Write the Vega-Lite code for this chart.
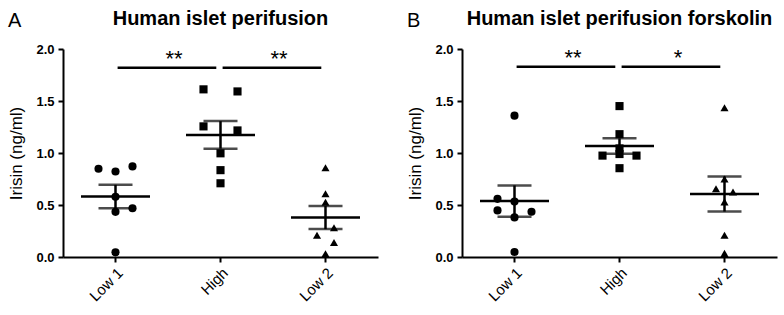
{
  "$schema": "https://vega.github.io/schema/vega-lite/v6.json",
  "padding": {"left": 7, "top": 9, "right": 5, "bottom": 5},
  "spacing": 28,
  "config": {
    "font": "Liberation Sans",
    "view": {"stroke": null},
    "axis": {
      "domainColor": "black", "domainWidth": 2, "tickColor": "black", "tickWidth": 2, "tickSize": 5,
      "labelColor": "black", "titleColor": "black", "grid": false, "labelFont": "Liberation Sans", "titleFont": "Liberation Sans"
    },
    "axisY": {"labelFontSize": 13, "labelFontWeight": "bold", "titleFontSize": 17, "titleFontWeight": "normal", "labelPadding": 4, "titlePadding": 10},
    "axisX": {"labelFontSize": 15, "labelAngle": -45, "labelPadding": 3},
    "title": {"color": "black", "font": "Liberation Sans"}
  },
  "hconcat": [
    {
      "title": {"text": "A", "anchor": "start", "frame": "bounds", "fontSize": 20, "fontWeight": "normal", "offset": -22},
      "hconcat": [
        {
          "width": 315, "height": 208,
          "title": {"text": "Human islet perifusion", "fontSize": 20, "fontWeight": "bold", "anchor": "middle", "offset": 14},
          "data": {"values": [
            {"group": "Low 1", "value": 0.848, "jit": -1},
            {"group": "Low 1", "value": 0.822, "jit": 0},
            {"group": "Low 1", "value": 0.871, "jit": 1},
            {"group": "Low 1", "value": 0.579, "jit": 0},
            {"group": "Low 1", "value": 0.434, "jit": 0},
            {"group": "Low 1", "value": 0.469, "jit": 1},
            {"group": "Low 1", "value": 0.045, "jit": 0},
            {"group": "High", "value": 1.612, "jit": -1},
            {"group": "High", "value": 1.592, "jit": 1},
            {"group": "High", "value": 1.256, "jit": -1},
            {"group": "High", "value": 1.217, "jit": 1},
            {"group": "High", "value": 0.997, "jit": 0},
            {"group": "High", "value": 0.835, "jit": 0},
            {"group": "High", "value": 0.709, "jit": 0},
            {"group": "Low 2", "value": 0.858, "jit": 0},
            {"group": "Low 2", "value": 0.608, "jit": 0},
            {"group": "Low 2", "value": 0.527, "jit": 0},
            {"group": "Low 2", "value": 0.282, "jit": 0.5},
            {"group": "Low 2", "value": 0.210, "jit": -0.5},
            {"group": "Low 2", "value": 0.139, "jit": 0.5},
            {"group": "Low 2", "value": 0.032, "jit": 0}
          ]},
          "layer": [
            {
              "mark": {"type": "point", "filled": true, "color": "black", "size": 66, "opacity": 1},
              "encoding": {
                "x": {"field": "group", "type": "nominal", "sort": null, "scale": {"domain": ["Low 1", "High", "Low 2"], "paddingInner": 0, "paddingOuter": 0}, "axis": {"title": null}},
                "xOffset": {"field": "jit", "type": "quantitative", "scale": {"domain": [-1, 1], "range": [35.5, 69.5]}},
                "y": {"field": "value", "type": "quantitative", "title": "Irisin (ng/ml)", "scale": {"domain": [0, 2], "nice": false}, "axis": {"values": [0, 0.5, 1, 1.5, 2], "format": ".1f"}},
                "shape": {"field": "group", "type": "nominal", "scale": {"domain": ["Low 1", "High", "Low 2"], "range": ["circle", "square", "triangle-up"]}, "legend": null}
              }
            },
            {
              "mark": {"type": "errorbar", "extent": "stderr", "color": "black", "ticks": {"size": 34, "thickness": 2.5, "color": "black"}, "rule": {"strokeWidth": 2.5, "color": "black"}},
              "encoding": {
                "x": {"field": "group", "type": "nominal"},
                "y": {"field": "value", "type": "quantitative", "title": "Irisin (ng/ml)"}
              }
            },
            {
              "mark": {"type": "tick", "size": 69, "thickness": 2.5, "color": "black", "opacity": 1},
              "encoding": {
                "x": {"field": "group", "type": "nominal"},
                "y": {"aggregate": "mean", "field": "value", "type": "quantitative", "title": "Irisin (ng/ml)"}
              }
            },
            {
              "data": {"values": [
                {"from": "Low 1", "to": "High", "y": 1.82, "label": "**"},
                {"from": "High", "to": "Low 2", "y": 1.82, "label": "**"}
              ]},
              "layer": [
                {
                  "mark": {"type": "rule", "strokeWidth": 2.5, "color": "black"},
                  "encoding": {
                    "x": {"field": "from", "type": "nominal", "bandPosition": 0.52},
                    "x2": {"field": "to", "bandPosition": 0.46},
                    "y": {"field": "y", "type": "quantitative", "title": "Irisin (ng/ml)"}
                  }
                },
                {
                  "mark": {"type": "text", "fontSize": 22, "color": "black", "baseline": "alphabetic", "dy": -2, "dx": 6},
                  "encoding": {
                    "x": {"field": "to", "type": "nominal", "bandPosition": 0},
                    "y": {"field": "y", "type": "quantitative", "title": "Irisin (ng/ml)"},
                    "text": {"field": "label"}
                  }
                }
              ]
            }
          ]
        }
      ]
    },
    {
      "title": {"text": "B", "anchor": "start", "frame": "bounds", "fontSize": 20, "fontWeight": "normal", "offset": -22},
      "hconcat": [
        {
          "width": 315, "height": 208,
          "title": {"text": "Human islet perifusion forskolin", "fontSize": 20, "fontWeight": "bold", "anchor": "middle", "offset": 14},
          "data": {"values": [
            {"group": "Low 1", "value": 1.359, "jit": 0},
            {"group": "Low 1", "value": 0.559, "jit": -1},
            {"group": "Low 1", "value": 0.533, "jit": 0},
            {"group": "Low 1", "value": 0.448, "jit": -1},
            {"group": "Low 1", "value": 0.435, "jit": 1},
            {"group": "Low 1", "value": 0.381, "jit": 0},
            {"group": "Low 1", "value": 0.048, "jit": 0},
            {"group": "High", "value": 1.451, "jit": 0},
            {"group": "High", "value": 1.181, "jit": 0},
            {"group": "High", "value": 1.044, "jit": 0},
            {"group": "High", "value": 0.990, "jit": 0},
            {"group": "High", "value": 0.975, "jit": -1},
            {"group": "High", "value": 0.975, "jit": 1},
            {"group": "High", "value": 0.854, "jit": 0},
            {"group": "Low 2", "value": 1.435, "jit": 0},
            {"group": "Low 2", "value": 0.749, "jit": 0},
            {"group": "Low 2", "value": 0.657, "jit": -0.5},
            {"group": "Low 2", "value": 0.625, "jit": 0.5},
            {"group": "Low 2", "value": 0.530, "jit": 0},
            {"group": "Low 2", "value": 0.210, "jit": 0},
            {"group": "Low 2", "value": 0.035, "jit": 0}
          ]},
          "layer": [
            {
              "mark": {"type": "point", "filled": true, "color": "black", "size": 66, "opacity": 1},
              "encoding": {
                "x": {"field": "group", "type": "nominal", "sort": null, "scale": {"domain": ["Low 1", "High", "Low 2"], "paddingInner": 0, "paddingOuter": 0}, "axis": {"title": null}},
                "xOffset": {"field": "jit", "type": "quantitative", "scale": {"domain": [-1, 1], "range": [35.5, 69.5]}},
                "y": {"field": "value", "type": "quantitative", "title": "Irisin (ng/ml)", "scale": {"domain": [0, 2], "nice": false}, "axis": {"values": [0, 0.5, 1, 1.5, 2], "format": ".1f"}},
                "shape": {"field": "group", "type": "nominal", "scale": {"domain": ["Low 1", "High", "Low 2"], "range": ["circle", "square", "triangle-up"]}, "legend": null}
              }
            },
            {
              "mark": {"type": "errorbar", "extent": "stderr", "color": "black", "ticks": {"size": 34, "thickness": 2.5, "color": "black"}, "rule": {"strokeWidth": 2.5, "color": "black"}},
              "encoding": {
                "x": {"field": "group", "type": "nominal"},
                "y": {"field": "value", "type": "quantitative", "title": "Irisin (ng/ml)"}
              }
            },
            {
              "mark": {"type": "tick", "size": 69, "thickness": 2.5, "color": "black", "opacity": 1},
              "encoding": {
                "x": {"field": "group", "type": "nominal"},
                "y": {"aggregate": "mean", "field": "value", "type": "quantitative", "title": "Irisin (ng/ml)"}
              }
            },
            {
              "data": {"values": [
                {"from": "Low 1", "to": "High", "y": 1.83, "label": "**"},
                {"from": "High", "to": "Low 2", "y": 1.83, "label": "*"}
              ]},
              "layer": [
                {
                  "mark": {"type": "rule", "strokeWidth": 2.5, "color": "black"},
                  "encoding": {
                    "x": {"field": "from", "type": "nominal", "bandPosition": 0.52},
                    "x2": {"field": "to", "bandPosition": 0.46},
                    "y": {"field": "y", "type": "quantitative", "title": "Irisin (ng/ml)"}
                  }
                },
                {
                  "mark": {"type": "text", "fontSize": 22, "color": "black", "baseline": "alphabetic", "dy": -2, "dx": 6},
                  "encoding": {
                    "x": {"field": "to", "type": "nominal", "bandPosition": 0},
                    "y": {"field": "y", "type": "quantitative", "title": "Irisin (ng/ml)"},
                    "text": {"field": "label"}
                  }
                }
              ]
            }
          ]
        }
      ]
    }
  ]
}
